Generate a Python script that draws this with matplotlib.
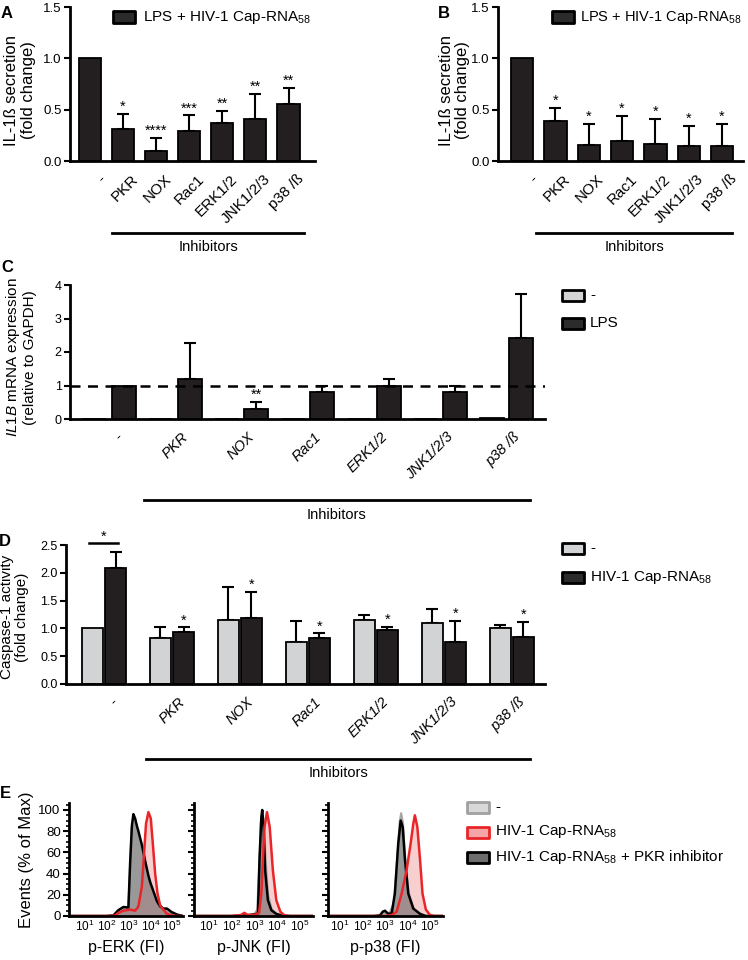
import numpy as np
import matplotlib
matplotlib.use("Agg")
import matplotlib.pyplot as plt
from matplotlib.patches import Rectangle
from matplotlib.lines import Line2D
from matplotlib.ticker import AutoMinorLocator, NullLocator
from matplotlib.transforms import ScaledTranslation

plt.rcParams['font.family'] = ['Liberation Sans', 'DejaVu Sans']
plt.rcParams['mathtext.fontset'] = 'custom'
plt.rcParams['mathtext.rm'] = 'Liberation Sans'
plt.rcParams['mathtext.it'] = 'Liberation Sans:italic'
plt.rcParams['mathtext.bf'] = 'Liberation Sans:bold'

W, H = 748, 960

# ---- data ----
inhibitors = ['-', 'PKR', 'NOX', 'Rac1', 'ERK1/2', 'JNK1/2/3', 'p38 /ß']

# A: IL-1b secretion, LPS + HIV-1 Cap-RNA58
a_mean = [1.0, 0.31, 0.10, 0.29, 0.37, 0.41, 0.56]
a_sd = [0.0, 0.15, 0.125, 0.155, 0.12, 0.24, 0.15]
a_stars = ['', '*', '****', '***', '**', '**', '**']

# B
b_mean = [1.0, 0.385, 0.155, 0.19, 0.17, 0.15, 0.15]
b_sd = [0.0, 0.13, 0.205, 0.25, 0.24, 0.195, 0.215]
b_stars = ['', '*', '*', '*', '*', '*', '*']

# C: IL1B mRNA
c_ctrl = [0.012, 0.012, 0.0, 0.008, 0.0, 0.012, 0.04]
c_lps = [1.0, 1.18, 0.30, 0.80, 1.0, 0.82, 2.43]
c_lps_sd = [0.0, 1.08, 0.20, 0.20, 0.18, 0.18, 1.30]
c_stars = ['', '', '**', '', '', '', '']

# D: caspase-1 activity
d_ctrl = [1.0, 0.83, 1.16, 0.76, 1.16, 1.09, 1.01]
d_ctrl_sd = [0.0, 0.19, 0.59, 0.38, 0.09, 0.26, 0.06]
d_cap = [2.08, 0.94, 1.18, 0.82, 0.98, 0.76, 0.84]
d_cap_sd = [0.29, 0.08, 0.48, 0.09, 0.05, 0.38, 0.28]
d_stars = ['', '*', '*', '*', '*', '*', '*']

# E: flow histograms, x = log10(FI), y = % of max
erk_ctrl_x = [0.3, 2.0, 2.3, 2.53, 2.76, 2.99, 3.07, 3.15, 3.22, 3.3, 3.38, 3.45, 3.61, 3.76, 3.91, 4.11, 4.3, 4.6, 4.83, 5.06, 5.3, 5.5]
erk_ctrl_y = [0, 0, 0.5, 5, 8, 8, 48, 83, 93, 90, 84, 79, 66, 51, 37, 24, 13, 7, 5, 2.5, 0.5, 0]
erk_cap_x = [0.3, 2.0, 2.38, 2.53, 2.76, 3.07, 3.3, 3.45, 3.61, 3.71, 3.8, 3.91, 4.02, 4.11, 4.22, 4.33, 4.45, 4.6, 4.76, 4.99, 5.2, 5.5]
erk_cap_y = [0, 0, 0.5, 3, 5, 6, 5, 9, 28, 59, 87, 98, 92, 69, 40, 21, 10, 6, 2, 0.5, 0, 0]
erk_pkr_x = [0.3, 2.0, 2.3, 2.53, 2.76, 2.99, 3.07, 3.15, 3.22, 3.3, 3.38, 3.45, 3.61, 3.76, 3.91, 3.99, 4.11, 4.3, 4.45, 4.6, 4.76, 4.83, 4.99, 5.06, 5.2, 5.5]
erk_pkr_y = [0, 0, 0.5, 5.5, 8.5, 8, 50, 85, 96, 92, 85, 80, 67, 52, 38, 32, 25, 14, 9, 7, 7, 6, 3.5, 3, 1.5, 0]

jnk_ctrl_x = [0.3, 2.0, 2.8, 3.0, 3.12, 3.2, 3.28, 3.34, 3.42, 3.5, 3.6, 3.75, 3.95, 4.2, 4.5, 5.6]
jnk_ctrl_y = [0, 0, 1, 2, 6, 45, 88, 98, 85, 50, 20, 7, 2, 0.5, 0, 0]
jnk_cap_x = [0.3, 2.0, 2.4, 2.55, 2.7, 3.0, 3.2, 3.3, 3.44, 3.55, 3.67, 3.81, 3.96, 4.14, 4.33, 4.6, 5.6]
jnk_cap_y = [0, 0, 1, 3, 1, 1, 3, 21, 84, 98, 84, 43, 15, 4, 0.5, 0, 0]
jnk_pkr_x = [0.3, 2.0, 2.5, 2.8, 3.0, 3.15, 3.22, 3.3, 3.34, 3.4, 3.47, 3.59, 3.74, 3.96, 4.2, 4.5, 5.6]
jnk_pkr_y = [0, 0, 0.5, 1, 1.5, 2.5, 53, 93, 100, 84, 43, 15, 5.5, 2, 0.5, 0, 0]

p38_ctrl_x = [0.45, 2.6, 2.9, 3.2, 3.4, 3.55, 3.65, 3.72, 3.8, 3.9, 4.05, 4.3, 4.6, 4.9, 5.6]
p38_ctrl_y = [0, 0, 2, 3, 12, 55, 88, 97, 88, 55, 22, 6, 1.5, 0, 0]
p38_cap_x = [0.45, 3.0, 3.3, 3.52, 3.74, 3.96, 4.14, 4.26, 4.33, 4.44, 4.56, 4.67, 4.82, 5.0, 5.2, 5.6]
p38_cap_y = [0, 0, 1, 4, 21, 43, 68, 87, 95, 84, 53, 21, 6, 1, 0, 0]
p38_pkr_x = [0.45, 2.5, 2.78, 2.9, 3.0, 3.15, 3.3, 3.44, 3.59, 3.7, 3.79, 3.89, 4.04, 4.26, 4.56, 4.8, 5.6]
p38_pkr_y = [0, 0, 0.5, 4, 5, 2, 2.5, 21, 68, 90, 84, 53, 21, 7, 2, 0, 0]

BLACK = '#231f20'
GREY = '#d1d3d4'

fig = plt.figure(figsize=(W / 100, H / 100), dpi=100)


def axes_px(x0, y0, x1, y1):
    return fig.add_axes([x0 / W, 1 - y1 / H, (x1 - x0) / W, (y1 - y0) / H])


def fig_text(x, y, s, **kw):
    fig.text(x / W, 1 - y / H, s, **kw)


def fig_line(x0, x1, y):
    fig.add_artist(Line2D([x0 / W, x1 / W], [1 - y / H, 1 - y / H], color='k', lw=2,
                          transform=fig.transFigure))


def legend_box(x, y, fc, ec):
    fig.add_artist(Rectangle((x / W, 1 - (y + 5.5) / H), 22 / W, 11 / H, facecolor=fc,
                             edgecolor=ec, lw=2, joinstyle='round', transform=fig.transFigure))


def style(ax, tick_size=9.5):
    for s in ['top', 'right']:
        ax.spines[s].set_visible(False)
    for s in ['left', 'bottom']:
        ax.spines[s].set_linewidth(2)
    ax.tick_params(axis='y', length=4, width=1.5, labelsize=tick_size, pad=2)
    ax.tick_params(axis='x', length=0)


def xlabels(ax, italic=False, size=11, dx=8):
    ax.set_xticks(range(len(inhibitors)))
    labs = ax.set_xticklabels(inhibitors, rotation=45, ha='right', va='top',
                              rotation_mode='anchor', fontsize=size,
                              fontstyle='italic' if italic else 'normal')
    for lab in labs:
        lab.set_transform(lab.get_transform() + ScaledTranslation(dx / 100, -6 / 100, fig.dpi_scale_trans))


def bars(ax, x, mean, sd, color, width):
    ax.bar(x, mean, width, color=color, edgecolor='k', linewidth=1.3, zorder=2)
    x = np.asarray(x, float)
    mean = np.asarray(mean)
    sd = np.asarray(sd)
    m = sd > 0
    ax.errorbar(x[m], mean[m], yerr=[np.zeros(m.sum()), sd[m]], fmt='none', ecolor='k',
                elinewidth=1.5, capsize=4, capthick=1.5, zorder=1)


def stars(ax, x, mean, sd, labels, size=10.5):
    for xi, mi, si, s in zip(x, mean, sd, labels):
        if s:
            ax.text(xi, mi + si, s, ha='center', va='bottom', fontsize=size, clip_on=False)


xs = np.arange(len(inhibitors))

# ---- A ----
axA = axes_px(70, 7, 315, 161)
bars(axA, xs, a_mean, a_sd, BLACK, 0.67)
stars(axA, xs, a_mean, a_sd, a_stars)
axA.set_xlim(-0.6, 6.8)
axA.set_ylim(0, 1.5)
axA.set_yticks([0, 0.5, 1.0, 1.5])
axA.set_yticklabels(['0.0', '0.5', '1.0', '1.5'])
style(axA)
xlabels(axA)
axA.set_ylabel('IL-1ß secretion\n(fold change)', fontsize=12, linespacing=1.1)
axA.yaxis.set_label_coords(-0.14, 0.46)

# ---- B ----
axB = axes_px(498, 7, 743, 161)
bars(axB, xs, b_mean, b_sd, BLACK, 0.67)
stars(axB, xs, b_mean, b_sd, b_stars)
axB.set_xlim(-0.72, 6.63)
axB.set_ylim(0, 1.5)
axB.set_yticks([0, 0.5, 1.0, 1.5])
axB.set_yticklabels(['0.0', '0.5', '1.0', '1.5'])
style(axB)
xlabels(axB)
axB.set_ylabel('IL-1ß secretion\n(fold change)', fontsize=12, linespacing=1.1)
axB.yaxis.set_label_coords(-0.115, 0.46)

legend_box(113, 17, '#2b2b2b', 'k')
fig_text(143, 17, 'LPS + HIV-1 Cap-RNA$_{58}$', fontsize=11, va='center')
legend_box(552, 17, '#2b2b2b', 'k')
fig_text(580, 17, 'LPS + HIV-1 Cap-RNA$_{58}$', fontsize=10.5, va='center')

fig_line(112, 304, 233)
fig_text(208, 247, 'Inhibitors', fontsize=10.5, ha='center', va='center')
fig_line(536, 732, 233)
fig_text(634, 247, 'Inhibitors', fontsize=10.5, ha='center', va='center')

# ---- C ----
axC = axes_px(70, 285, 545, 419)
bars(axC, xs - 0.22, c_ctrl, np.zeros(7), GREY, 0.35)
bars(axC, xs + 0.22, c_lps, c_lps_sd, BLACK, 0.36)
stars(axC, xs + 0.22, c_lps, c_lps_sd, c_stars)
axC.axhline(1, color='k', lw=1.8, ls=(0, (4, 3)), zorder=3)
axC.set_xlim(-0.59, 6.58)
axC.set_ylim(0, 4)
axC.set_yticks([0, 1, 2, 3, 4])
style(axC, 9)
xlabels(axC, italic=True, size=10.5, dx=6)
axC.set_ylabel('$\\mathit{IL1B}$ mRNA expression\n(relative to GAPDH)', fontsize=11, linespacing=1.1)
axC.yaxis.set_label_coords(-0.069, 0.46)

legend_box(562, 295, GREY, 'k')
fig_text(590, 295, '-', fontsize=11, va='center')
legend_box(562, 323, '#2b2b2b', 'k')
fig_text(590, 323, 'LPS', fontsize=11, va='center')

fig_line(144, 530, 500)
fig_text(337, 515, 'Inhibitors', fontsize=10.5, ha='center', va='center')

# ---- D ----
axD = axes_px(66, 545, 545, 684)
bars(axD, xs - 0.17, d_ctrl, d_ctrl_sd, GREY, 0.31)
bars(axD, xs + 0.17, d_cap, d_cap_sd, BLACK, 0.31)
stars(axD, xs + 0.17, d_cap, d_cap_sd, d_stars)
axD.plot([-0.22, 0.2], [2.53, 2.53], color='k', lw=1.8, clip_on=False)
axD.text(0, 2.53, '*', ha='center', va='bottom', fontsize=10.5)
axD.set_xlim(-0.56, 6.49)
axD.set_ylim(0, 2.5)
axD.set_yticks([0, 0.5, 1.0, 1.5, 2.0, 2.5])
axD.set_yticklabels(['0.0', '0.5', '1.0', '1.5', '2.0', '2.5'])
style(axD, 9)
xlabels(axD, italic=True, size=10.5, dx=6)
axD.set_ylabel('Caspase-1 activity\n(fold change)', fontsize=11, linespacing=1.1)
axD.yaxis.set_label_coords(-0.077, 0.48)

legend_box(562, 548, GREY, 'k')
fig_text(590, 548, '-', fontsize=11, va='center')
legend_box(562, 577, '#2b2b2b', 'k')
fig_text(590, 577, 'HIV-1 Cap-RNA$_{58}$', fontsize=11, va='center')

fig_line(146, 530, 759)
fig_text(338, 773, 'Inhibitors', fontsize=10.5, ha='center', va='center')

# ---- E ----
hist_panels = [
    ((69, 183), (0.26, 5.5), 'p-ERK (FI)', erk_ctrl_x, erk_ctrl_y, erk_cap_x, erk_cap_y, erk_pkr_x, erk_pkr_y),
    ((194, 313), (0.33, 5.58), 'p-JNK (FI)', jnk_ctrl_x, jnk_ctrl_y, jnk_cap_x, jnk_cap_y, jnk_pkr_x, jnk_pkr_y),
    ((328, 443), (0.47, 5.58), 'p-p38 (FI)', p38_ctrl_x, p38_ctrl_y, p38_cap_x, p38_cap_y, p38_pkr_x, p38_pkr_y),
]
for k, (xpx, lim, lab, cx, cy, hx, hy, px, py) in enumerate(hist_panels):
    ax = axes_px(xpx[0], 803, xpx[1], 916)
    ax.set_xscale('log')
    cx, hx, px = [np.power(10.0, np.asarray(v)) for v in (cx, hx, px)]
    ax.fill_between(cx, cy, color='#cfcfcf', alpha=0.85, lw=0)
    ax.fill_between(hx, hy, color='#f4a9a9', alpha=0.55, lw=0)
    ax.fill_between(px, py, color='#5e5e5e', alpha=0.5, lw=0)
    ax.plot(cx, cy, color='#a6a6a6', lw=1.5)
    ax.plot(px, py, color='k', lw=1.8)
    ax.plot(hx, hy, color='#e8262a', lw=1.8)
    ax.set_xlim(10 ** lim[0], 10 ** lim[1])
    ax.set_ylim(0, 106.6)
    ax.set_xticks([1e1, 1e2, 1e3, 1e4, 1e5])
    ax.xaxis.set_minor_locator(NullLocator())
    ax.set_yticks([0, 20, 40, 60, 80, 100])
    ax.yaxis.set_minor_locator(AutoMinorLocator(4))
    style(ax, 9.5)
    ax.tick_params(axis='x', labelsize=8.5, pad=2)
    ax.tick_params(axis='y', which='minor', length=2, width=1.2)
    ax.set_xlabel(lab, fontsize=11.5, labelpad=4)
    if k == 0:
        ax.set_ylabel('Events (% of Max)', fontsize=12)
        ax.yaxis.set_label_coords(-0.31, 0.5)
    else:
        ax.tick_params(axis='y', labelleft=False)

legend_box(467, 807, '#d9d9d9', '#a0a0a0')
fig_text(495, 807, '-', fontsize=11, va='center')
legend_box(467, 832, '#f4a6a6', '#e8262a')
fig_text(495, 832, 'HIV-1 Cap-RNA$_{58}$', fontsize=11, va='center')
legend_box(467, 857, '#6d6d6d', 'k')
fig_text(495, 857, 'HIV-1 Cap-RNA$_{58}$ + PKR inhibitor', fontsize=11, va='center')

# panel letters
for letter, x, y in [('A', 7, 14), ('B', 444, 13), ('C', 7, 267), ('D', 5, 541), ('E', 5, 794)]:
    fig_text(x, y, letter, fontsize=12, fontweight='bold', ha='center', va='center')

fig.savefig('out.png', dpi=100)
